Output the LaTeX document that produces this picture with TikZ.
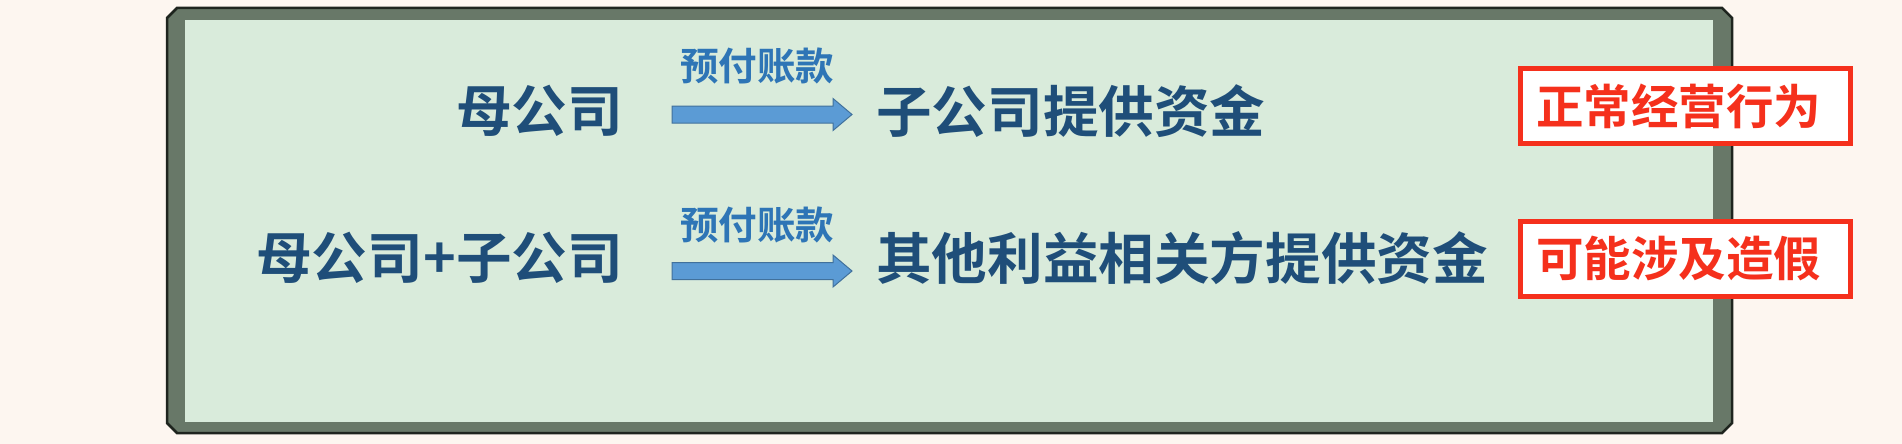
\documentclass[tikz,border=0pt]{standalone}
\usepackage{fontspec}
\newfontfamily\cjk{Noto Sans CJK SC Bold}
\usetikzlibrary{calc}
\definecolor{bgc}{HTML}{FDF6F0}
\definecolor{framec}{HTML}{687868}
\definecolor{framedark}{HTML}{1E241E}
\definecolor{innerc}{HTML}{D9EBDB}
\definecolor{maintxt}{HTML}{1F4E79}
\definecolor{labtxt}{HTML}{2E75B6}
\definecolor{arrfill}{HTML}{5B9BD5}
\definecolor{arrline}{HTML}{41719C}
\definecolor{redc}{HTML}{F5301C}
\tikzset{
  maintext/.style={inner sep=0pt, text=maintxt, font=\cjk\fontsize{55.6pt}{60pt}\selectfont},
  labeltext/.style={inner sep=0pt, text=labtxt, font=\cjk\fontsize{38.5pt}{42pt}\selectfont},
  redbox/.style={draw=redc, line width=5pt, fill=white, text=redc, inner sep=0pt,
    minimum width=330pt, minimum height=75pt, font=\cjk\fontsize{47.5pt}{50pt}\selectfont},
  blockarrow/.style={fill=arrfill, draw=arrline, line width=1pt, line join=miter},
}
\begin{document}
\begin{tikzpicture}[x=1pt,y=-1pt]
\useasboundingbox (0,0) rectangle (1902,444);
\fill[bgc] (0,0) rectangle (1902,444);
% frame
\draw[fill=framec, draw=framedark, line width=2.5pt]
  (177,8) -- (1722,8) -- (1732,18) -- (1732,423) -- (1722,433) -- (177,433) -- (167,423) -- (167,18) -- cycle;
\fill[innerc] (185,20) rectangle (1713,422);
% row 1
\node[maintext, anchor=east] (m1) at (623,111) {母公司};
\node[labeltext] (l1) at (757,66) {预付账款};
\coordinate (a1s) at (672,114.5);
\coordinate (a1e) at (852,114.5);
\draw[blockarrow] ($(a1s)+(0,-8.5)$) -- ($(a1e)+(-19,-8.5)$) -- ($(a1e)+(-19,-16)$) -- (a1e)
  -- ($(a1e)+(-19,16)$) -- ($(a1e)+(-19,8.5)$) -- ($(a1s)+(0,8.5)$) -- cycle;
\node[maintext, anchor=west] (t1) at (876,111) {子公司提供资金};
\node[redbox] (b1) at (1685.5,106) {正常经营行为\hspace*{14pt}};
% row 2
\node[maintext, anchor=east] (m2) at (623,258) {母公司+子公司};
\node[labeltext] (l2) at (757,225) {预付账款};
\coordinate (a2s) at (672,271);
\coordinate (a2e) at (852,271);
\draw[blockarrow] ($(a2s)+(0,-8.5)$) -- ($(a2e)+(-19,-8.5)$) -- ($(a2e)+(-19,-16)$) -- (a2e)
  -- ($(a2e)+(-19,16)$) -- ($(a2e)+(-19,8.5)$) -- ($(a2s)+(0,8.5)$) -- cycle;
\node[maintext, anchor=west] (t2) at (876,258) {其他利益相关方提供资金};
\node[redbox] (b2) at (1685.5,258.5) {可能涉及造假\hspace*{14pt}};
\end{tikzpicture}
\end{document}
